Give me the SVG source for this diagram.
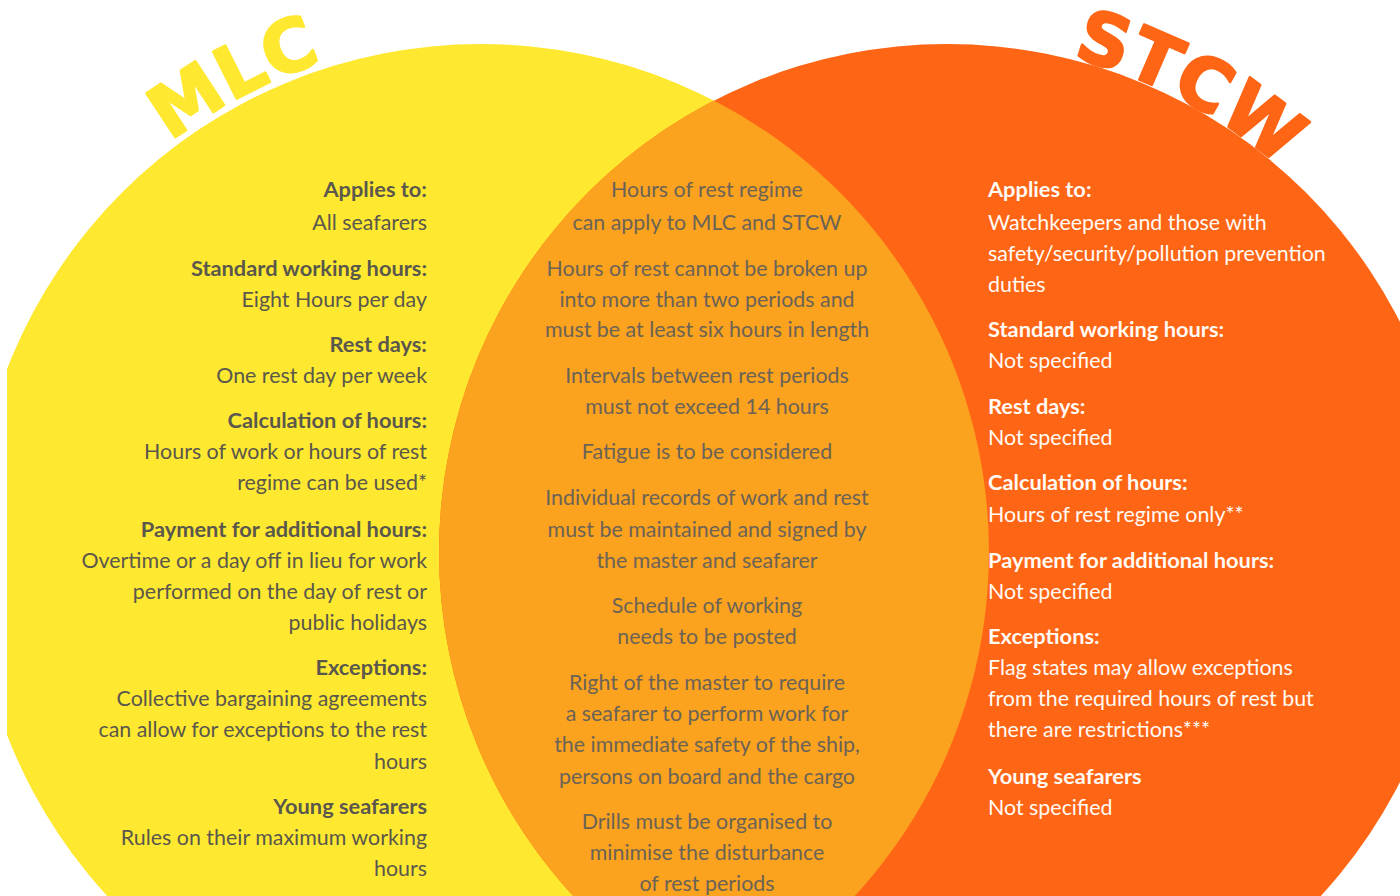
<svg xmlns="http://www.w3.org/2000/svg" width="1400" height="896" viewBox="0 0 1400 896">
  <style>
    .t { font-family: Lato, "Liberation Sans", Arial, sans-serif; font-size: 21.4px; }
    .b { font-weight: 700; font-size: 21.8px; }
    .left { fill: #5a574c; text-anchor: end; }
    .mid { fill: #6b6356; text-anchor: middle; }
    .right { fill: #fffaf4; text-anchor: start; }
    .title { font-family: "DejaVu Sans", Roboto, sans-serif; font-weight: 700; font-size: 72px; text-anchor: middle; stroke-width: 2.5px; stroke-linejoin: round; letter-spacing: 1px; }
  </style>
  <defs>
    <clipPath id="page">
      <rect x="7" y="0" width="1393" height="896"/>
    </clipPath>
    <!-- baselines follow each circle's outline, a few pixels outside it -->
    <path id="mlcArc" d="M 47.5 275.8 A 516 516 0 0 1 503.4 36.5"/>
    <path id="stcwArc" d="M 918 41 A 512 512 0 0 1 1380 286"/>
  </defs>

  <rect width="1400" height="896" fill="#ffffff"/>

  <!-- circles -->
  <g clip-path="url(#page)">
    <circle id="mlc-circle" cx="481" cy="552" r="508" fill="#ffe830"/>
    <circle id="stcw-circle" cx="947" cy="552" r="508" fill="#fe6515"/>
    <path id="overlap" d="M 714 100.6 A 508 508 0 0 0 714 1003.4 A 508 508 0 0 0 714 100.6 Z" fill="#fba21f"/>
  </g>

  <!-- curved titles -->
  <g id="mlc-title">
    <text class="title" fill="#ffe830" stroke="#ffe830"><textPath href="#mlcArc" startOffset="50%">MLC</textPath></text>
  </g>
  <g id="stcw-title">
    <text class="title" fill="#fe6515" stroke="#fe6515"><textPath href="#stcwArc" startOffset="50%">STCW</textPath></text>
  </g>

  <!-- MLC column -->
  <g id="mlc-text" class="t left">
    <text class="b" x="427" y="197">Applies to:</text>
    <text x="427" y="230">All seafarers</text>
    <text class="b" x="427" y="276">Standard working hours:</text>
    <text x="427" y="307">Eight Hours per day</text>
    <text class="b" x="427" y="352">Rest days:</text>
    <text x="427" y="383">One rest day per week</text>
    <text class="b" x="427" y="428">Calculation of hours:</text>
    <text x="427" y="459">Hours of work or hours of rest</text>
    <text x="427" y="490">regime can be used*</text>
    <text class="b" x="427" y="537">Payment for additional hours:</text>
    <text x="427" y="568">Overtime or a day off in lieu for work</text>
    <text x="427" y="599">performed on the day of rest or</text>
    <text x="427" y="630">public holidays</text>
    <text class="b" x="427" y="675">Exceptions:</text>
    <text x="427" y="706">Collective bargaining agreements</text>
    <text x="427" y="737">can allow for exceptions to the rest</text>
    <text x="427" y="769">hours</text>
    <text class="b" x="427" y="814">Young seafarers</text>
    <text x="427" y="845">Rules on their maximum working</text>
    <text x="427" y="876">hours</text>
  </g>

  <!-- shared column -->
  <g id="shared-text" class="t mid">
    <text x="707" y="197">Hours of rest regime</text>
    <text x="707" y="230">can apply to MLC and STCW</text>
    <text x="707" y="276">Hours of rest cannot be broken up</text>
    <text x="707" y="307">into more than two periods and</text>
    <text x="707" y="337">must be at least six hours in length</text>
    <text x="707" y="383">Intervals between rest periods</text>
    <text x="707" y="414">must not exceed 14 hours</text>
    <text x="707" y="459">Fatigue is to be considered</text>
    <text x="707" y="505">Individual records of work and rest</text>
    <text x="707" y="537">must be maintained and signed by</text>
    <text x="707" y="568">the master and seafarer</text>
    <text x="707" y="613">Schedule of working</text>
    <text x="707" y="644">needs to be posted</text>
    <text x="707" y="690">Right of the master to require</text>
    <text x="707" y="721">a seafarer to perform work for</text>
    <text x="707" y="752">the immediate safety of the ship,</text>
    <text x="707" y="784">persons on board and the cargo</text>
    <text x="707" y="829">Drills must be organised to</text>
    <text x="707" y="860">minimise the disturbance</text>
    <text x="707" y="891">of rest periods</text>
  </g>

  <!-- STCW column -->
  <g id="stcw-text" class="t right">
    <text class="b" x="988" y="197">Applies to:</text>
    <text x="988" y="230">Watchkeepers and those with</text>
    <text x="988" y="261">safety/security/pollution prevention</text>
    <text x="988" y="292">duties</text>
    <text class="b" x="988" y="337">Standard working hours:</text>
    <text x="988" y="368">Not specified</text>
    <text class="b" x="988" y="414">Rest days:</text>
    <text x="988" y="445">Not specified</text>
    <text class="b" x="988" y="490">Calculation of hours:</text>
    <text x="988" y="522">Hours of rest regime only**</text>
    <text class="b" x="988" y="568">Payment for additional hours:</text>
    <text x="988" y="599">Not specified</text>
    <text class="b" x="988" y="644">Exceptions:</text>
    <text x="988" y="675">Flag states may allow exceptions</text>
    <text x="988" y="706">from the required hours of rest but</text>
    <text x="988" y="737">there are restrictions***</text>
    <text class="b" x="988" y="784">Young seafarers</text>
    <text x="988" y="815">Not specified</text>
  </g>
</svg>
